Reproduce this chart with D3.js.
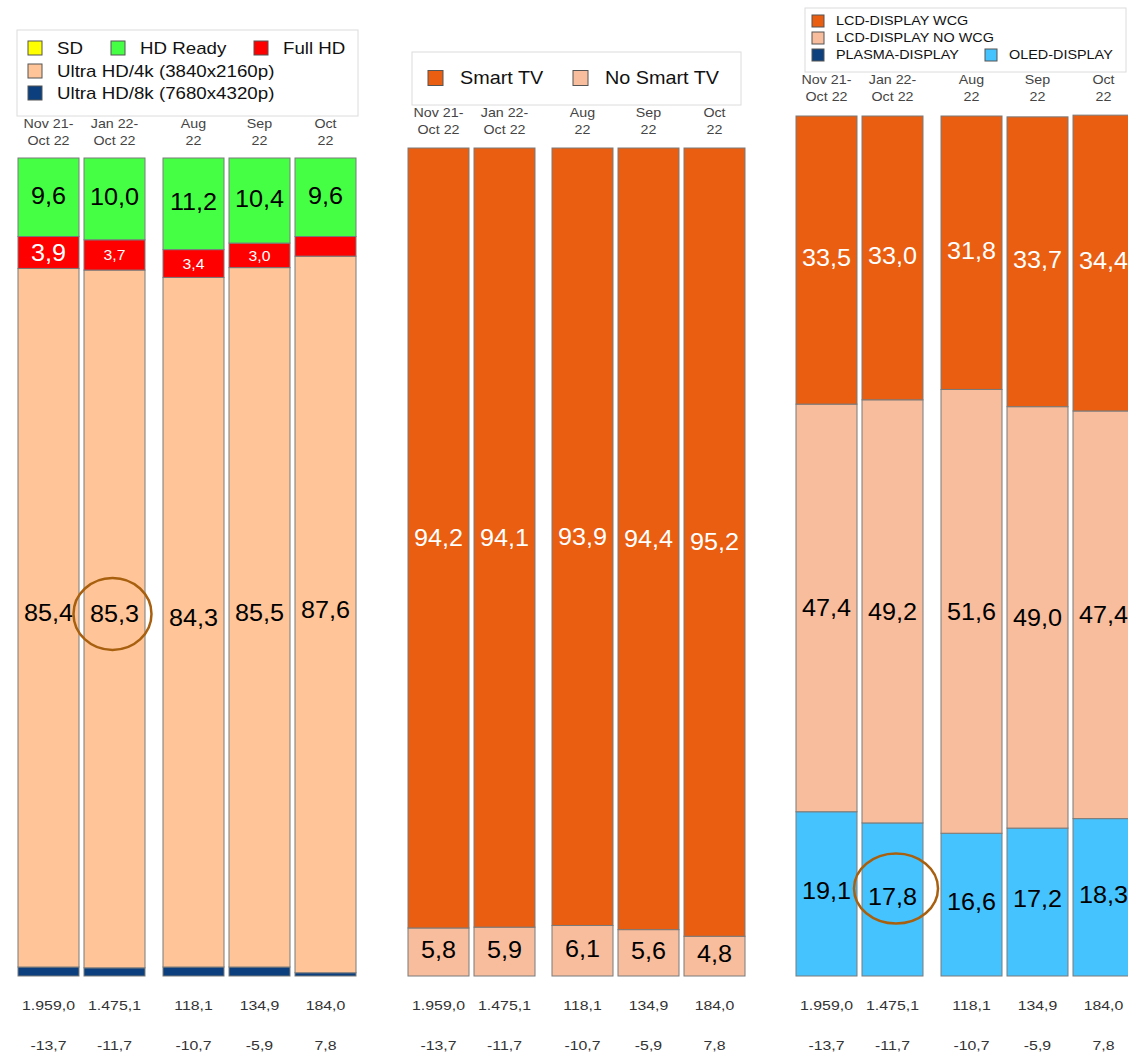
<!DOCTYPE html>
<html><head><meta charset="utf-8">
<script src="https://cdn.jsdelivr.net/npm/d3@7"></script>
<style>body{margin:0;background:#fff}svg{display:block}text{font-family:"Liberation Sans",Arial,sans-serif}</style>
</head><body>
<svg id="c" width="1128" height="1055"></svg>
<script>
// ---- data ----
const categories = ["Nov 21-\nOct 22", "Jan 22-\nOct 22", "Aug\n22", "Sep\n22", "Oct\n22"];
const totals = [1959.0, 1475.1, 118.1, 134.9, 184.0];
const changes = [-13.7, -11.7, -10.7, -5.9, 7.8];

// panel 1 (resolution), bottom to top
const res8k   = [1.1, 1.0, 1.1, 1.1, 0.4];
const res4k   = [85.4, 85.3, 84.3, 85.5, 87.6];
const resFull = [3.9, 3.7, 3.4, 3.0, 2.4];
const resHDR  = [9.6, 10.0, 11.2, 10.4, 9.6];
const resSD   = [0, 0, 0, 0, 0];
const resFullLabelShown = [true, true, true, true, false];
const resFullLabelBig = [true, false, false, false, false];

// panel 2 (smart)
const noSmart = [5.8, 5.9, 6.1, 5.6, 4.8];
const smart   = [94.2, 94.1, 93.9, 94.4, 95.2];

// panel 3 (display technology), bottom to top
const oled    = [19.1, 17.8, 16.6, 17.2, 18.3];
const plasma  = [0, 0, 0, 0, 0];
const lcdNo   = [47.4, 49.2, 51.6, 49.0, 47.4];
const lcdWcg  = [33.5, 33.0, 31.8, 33.7, 34.4];

const highlightBar = 1; // circled values

const num1 = v => d3.format(".1f")(v).replace(".", ",").replace("\u2212", "-");
const de = d3.formatLocale({decimal: ",", thousands: ".", grouping: [3], currency: ["", "€"], minus: "-"});
const numTot = de.format(",.1f");

const svg = d3.select("#c");

// text with horizontal stretch
function txt(g, x, y, s, fs, fill, anchor, sx, baseline) {
  const t = g.append("text").attr("transform", `translate(${x},${y}) scale(${sx || 1},1)`)
    .attr("text-anchor", anchor || "middle").attr("font-size", fs).attr("fill", fill).text(s);
  if (baseline) t.attr("dominant-baseline", baseline);
  return t;
}

function panel(cfg) {
  const g = svg.append("g");
  const idx = d3.range(categories.length);
  const xb = d3.scaleBand().domain(idx).range([cfg.x0, cfg.x0 + 66 * 5 - 5]).paddingInner(5 / 66).paddingOuter(0).align(0);
  const x = i => xb(i) + (i >= 2 ? cfg.extra : 0);
  const bw = xb.bandwidth();
  const y = d3.scaleLinear().domain([0, 100]).range([cfg.bottom, cfg.top]);

  const stackData = idx.map(i => { const o = {i}; cfg.series.forEach((s, k) => o["s" + k] = s.values[i]); return o; });
  const stacked = d3.stack().keys(cfg.series.map((s, k) => "s" + k))(stackData);
  stacked.forEach((layer, k) => {
    const s = cfg.series[k];
    layer.forEach((d, i) => {
      if (d[1] - d[0] <= 0) return;
      g.append("rect").attr("x", x(i)).attr("y", y(d[1])).attr("width", bw).attr("height", y(d[0]) - y(d[1]))
        .attr("fill", s.color).attr("stroke", "#7a7a7a").attr("stroke-width", 1);
    });
  });
  stacked.forEach((layer, k) => {
    const s = cfg.series[k];
    if (!s.label) return;
    layer.forEach((d, i) => {
      if (d[1] - d[0] <= 0) return;
      if (s.shown && !s.shown[i]) return;
      const fs = s.big ? (s.big[i] ? 24 : 15) : 24;
      txt(g, x(i) + bw / 2, (y(d[0]) + y(d[1])) / 2 + (s.dy || 0), num1(d[1] - d[0]), fs, s.labelColor, "middle", 1.05, "central");
    });
  });

  idx.forEach(i => {
    const cx = x(i) + bw / 2;
    categories[i].split("\n").forEach((t, j) => txt(g, cx, cfg.headY + j * 17, t, 12.5, "#444", "middle", 1.14));
    txt(g, cx, 1010, numTot(totals[i]), 13, "#333", "middle", 1.22);
    txt(g, cx, 1050, num1(changes[i]), 13, "#333", "middle", 1.22);
  });

  if (cfg.circle) {
    const d = stacked[cfg.circle.series][highlightBar];
    g.append("ellipse").attr("cx", x(highlightBar) + bw / 2 + cfg.circle.dx).attr("cy", (y(d[0]) + y(d[1])) / 2 + cfg.circle.dy)
      .attr("rx", cfg.circle.rx).attr("ry", cfg.circle.ry).attr("fill", "none")
      .attr("stroke", "#a8600f").attr("stroke-width", 2.5);
  }

  const L = cfg.legend;
  g.append("rect").attr("x", L.x).attr("y", L.y).attr("width", L.w).attr("height", L.h)
    .attr("fill", "#fff").attr("stroke", "#dcdcdc").attr("stroke-width", 1);
  L.items.forEach(it => {
    g.append("rect").attr("x", it.x).attr("y", it.y - L.sq / 2).attr("width", L.sq).attr("height", L.sq)
      .attr("fill", it.color).attr("stroke", "#555").attr("stroke-width", 1);
    txt(g, it.x + L.sq + L.gap, it.y, it.text, L.fs, "#111", "start", L.sx, "central");
  });
}

const C = {yellow: "#ffff00", green: "#44ff44", red: "#ff0000", peach: "#ffc598", navy: "#0b3f7e",
           orange: "#e95e10", peach2: "#f8bd9d", sky: "#45c3ff"};

panel({
  x0: 18, extra: 13, top: 158, bottom: 976, headY: 128,
  series: [
    {values: res8k, color: C.navy},
    {values: res4k, color: C.peach, label: true, labelColor: "#000", dy: -5},
    {values: resFull, color: C.red, label: true, labelColor: "#fff", shown: resFullLabelShown, big: resFullLabelBig},
    {values: resHDR, color: C.green, label: true, labelColor: "#000", dy: -2},
    {values: resSD, color: C.yellow}
  ],
  circle: {series: 1, rx: 39, ry: 36, dx: -2, dy: -5},
  legend: {x: 17, y: 30, w: 341, h: 86, sq: 14, gap: 15, fs: 16, sx: 1.17, items: [
    {x: 28, y: 48, color: C.yellow, text: "SD"},
    {x: 111, y: 48, color: C.green, text: "HD Ready"},
    {x: 254, y: 48, color: C.red, text: "Full HD"},
    {x: 28, y: 71, color: C.peach, text: "Ultra HD/4k (3840x2160p)"},
    {x: 28, y: 93, color: C.navy, text: "Ultra HD/8k (7680x4320p)"}
  ]}
});

panel({
  x0: 408, extra: 12, top: 148, bottom: 976, headY: 117,
  series: [
    {values: noSmart, color: C.peach2, label: true, labelColor: "#000", dy: -2},
    {values: smart, color: C.orange, label: true, labelColor: "#fff"}
  ],
  legend: {x: 412, y: 52, w: 329, h: 53, sq: 15, gap: 17, fs: 18, sx: 1.1, items: [
    {x: 428, y: 78, color: C.orange, text: "Smart TV"},
    {x: 573, y: 78, color: C.peach2, text: "No Smart TV"}
  ]}
});

panel({
  x0: 796, extra: 13, top: 116, bottom: 976, headY: 84,
  series: [
    {values: oled, color: C.sky, label: true, labelColor: "#000", dy: -3},
    {values: plasma, color: C.navy},
    {values: lcdNo, color: C.peach2, label: true, labelColor: "#000"},
    {values: lcdWcg, color: C.orange, label: true, labelColor: "#fff", dy: -2}
  ],
  circle: {series: 0, rx: 42, ry: 35, dx: 3.5, dy: -11},
  legend: {x: 805, y: 8, w: 321, h: 64, sq: 12, gap: 12, fs: 12, sx: 1.2, items: [
    {x: 812, y: 21, color: C.orange, text: "LCD-DISPLAY WCG"},
    {x: 812, y: 38, color: C.peach2, text: "LCD-DISPLAY NO WCG"},
    {x: 812, y: 55, color: C.navy, text: "PLASMA-DISPLAY"},
    {x: 985, y: 55, color: C.sky, text: "OLED-DISPLAY"}
  ]}
});
</script>
</body></html>
